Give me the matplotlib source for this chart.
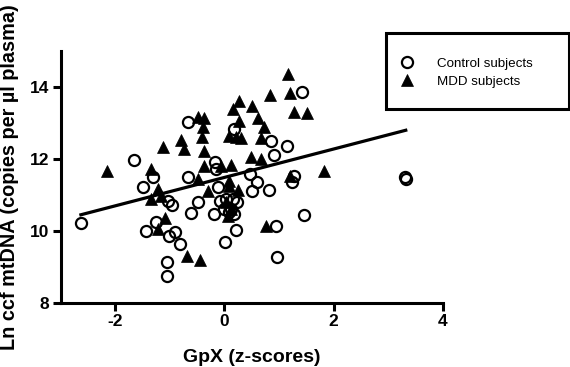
import numpy as np
import matplotlib
matplotlib.use('Agg')
import matplotlib.pyplot as plt
from matplotlib.patches import Rectangle

plt.rcParams['font.family'] = ['Liberation Sans', 'DejaVu Sans']
plt.rcParams['axes.unicode_minus'] = False

# control subjects (open circles)
ctrl_x = [-2.63, -1.65, -1.50, -1.31, -1.44, -1.25, -1.04, -0.96, -1.02, -0.90,
          -0.82, -1.05, -1.05, -0.67, -0.67, -0.49, -0.61, -0.18, -0.15, -0.12,
          -0.20, 0.01, 0.21, 0.03, 0.12, 0.18, 0.08, 0.22, 0.15, 0.18,
          0.46, 0.60, 0.51, 0.81, 0.85, 1.14, 0.90, 1.28, 1.24, 1.42,
          0.94, 1.46, 0.96, 3.30, 3.32, -0.09, 0.00]
ctrl_y = [10.21, 11.98, 11.21, 11.49, 10.01, 10.24, 10.84, 10.72, 9.87, 9.96,
          9.64, 9.15, 8.76, 13.02, 11.49, 10.80, 10.50, 11.91, 11.72, 11.21,
          10.47, 9.69, 10.04, 10.89, 10.61, 10.47, 10.52, 10.80, 10.90, 12.83,
          11.58, 11.37, 11.10, 11.14, 12.51, 12.37, 12.11, 11.52, 11.35, 13.85,
          10.13, 10.44, 9.27, 11.50, 11.45, 10.84, 10.61]

# MDD subjects (filled triangles)
mdd_x = [-2.15, -1.13, -0.80, -0.74, -1.34, -1.22, -1.34, -1.17, -1.09, -1.22,
         -0.68, -0.44, -0.49, -0.37, -0.40, -0.42, -0.37, -0.37, -0.49, -0.30,
         -0.07, 0.12, 0.09, 0.09, 0.24, 0.03, 0.12, 0.06, 0.15, 0.27,
         0.51, 0.27, 0.61, 0.73, 0.09, 0.21, 0.31, 0.66, 0.49, 0.67,
         0.84, 1.17, 1.20, 1.28, 1.52, 1.83, 1.20, 0.76]
mdd_y = [11.67, 12.32, 12.53, 12.28, 11.73, 11.18, 10.89, 10.98, 10.37, 10.06,
         9.31, 9.19, 13.18, 13.15, 12.90, 12.60, 12.23, 11.81, 11.44, 11.12,
         11.81, 11.83, 11.38, 11.26, 11.15, 10.80, 10.61, 10.43, 13.39, 13.62,
         13.48, 13.06, 13.13, 12.88, 12.64, 12.60, 12.58, 12.58, 12.05, 12.00,
         13.78, 14.36, 13.83, 13.30, 13.28, 11.68, 11.54, 10.15]

x_ticks = [-2, 0, 2, 4]
y_ticks = [8, 10, 12, 14]

fig = plt.figure(figsize=(5.70, 3.67), dpi=100)
ax = fig.add_axes([0.1065, 0.1744, 0.6705, 0.6866])

# linear fit over both groups
all_x = np.array(ctrl_x + mdd_x)
all_y = np.array(ctrl_y + mdd_y)
slope, intercept = np.polyfit(all_x, all_y, 1)
fx = np.array([all_x.min(), all_x.max()])
ax.plot(fx, slope * fx + intercept, color='black', lw=2.3, zorder=1)

ax.plot(ctrl_x, ctrl_y, 'o', ms=8, mfc='none', mec='black', mew=1.6,
        label='Control subjects', zorder=2)
ax.plot(mdd_x, mdd_y, '^', ms=8.5, mfc='black', mec='black', mew=0.5,
        label='MDD subjects', zorder=3)

ax.set_xlim(-3, 4)
ax.set_ylim(8, 15)
ax.set_xticks(x_ticks)
ax.set_yticks(y_ticks)
for s in ['top', 'right']:
    ax.spines[s].set_visible(False)
for s in ['left', 'bottom']:
    ax.spines[s].set_linewidth(2.2)
ax.tick_params(width=2.2, length=6, labelsize=12.5, pad=2)
for lab in ax.get_xticklabels() + ax.get_yticklabels():
    lab.set_fontweight('bold')

ax.set_xlabel('GpX (z-scores)', fontsize=14, fontweight='bold', labelpad=14)
ax.set_ylabel('Ln ccf mtDNA (copies per µl plasma)', fontsize=14.3,
              fontweight='bold', labelpad=8)

# legend box sticks out past the axes
fig.patches.append(Rectangle((0.677, 0.703), 0.321, 0.207, transform=fig.transFigure,
                             fill=False, lw=2.2, ec='black'))
fig.legend(loc='center left', bbox_to_anchor=(0.7025, 0.802), frameon=False,
           fontsize=9.6, borderpad=0, handlelength=1.0, handletextpad=1.77,
           labelspacing=0.45, borderaxespad=0)

plt.savefig('out.png', dpi=100)
